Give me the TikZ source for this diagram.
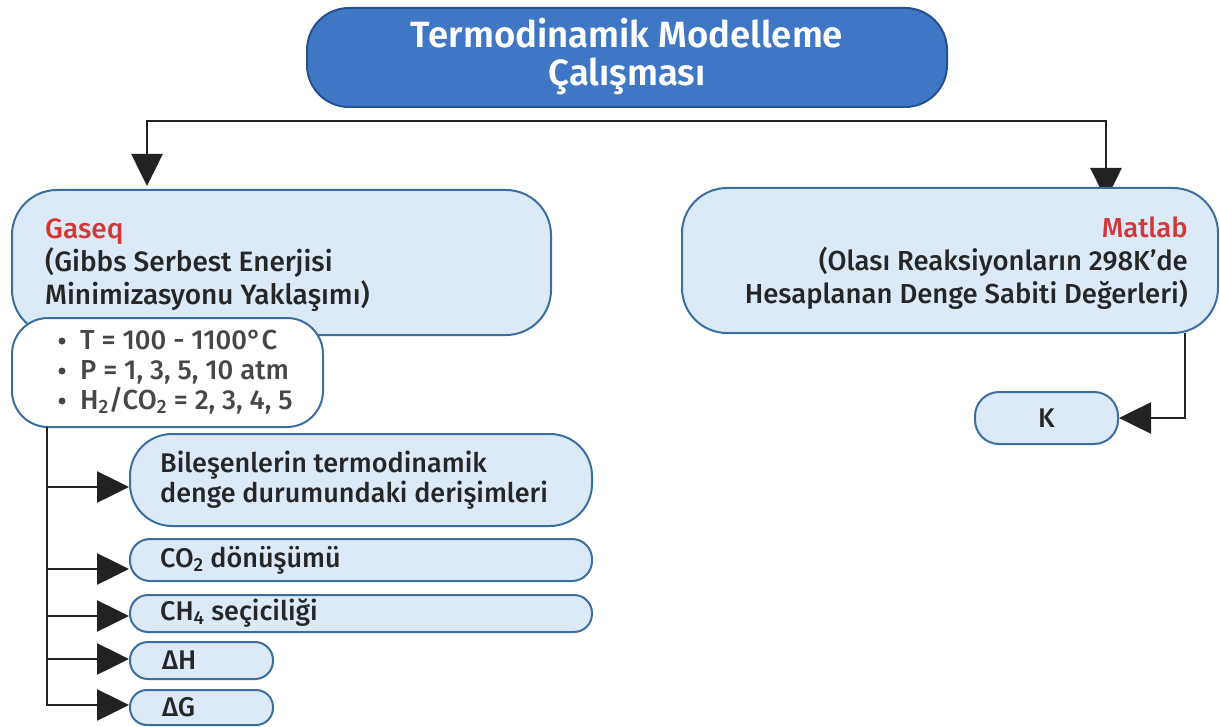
\documentclass[tikz,border=0pt]{standalone}
\usepackage{fontspec}
\setmainfont{Fira Sans}[UprightFont={* Medium},BoldFont={* SemiBold}]
\usetikzlibrary{arrows.meta,calc}
\definecolor{boxfill}{HTML}{DCEAF8}
\definecolor{boxline}{HTML}{3B6E9E}
\definecolor{topfill}{HTML}{3F77C4}
\definecolor{topline}{HTML}{25508F}
\definecolor{txt}{HTML}{262626}
\definecolor{redtxt}{HTML}{D0393A}
\definecolor{conn}{HTML}{222222}
\tikzset{
  rbox/.style={draw=boxline,fill=boxfill,line width=2pt,rectangle,inner sep=0pt},
  wbox/.style={draw=boxline,fill=white,line width=2pt,rectangle,inner sep=0pt},
  tbox/.style={draw=topline,fill=topfill,line width=2pt,rectangle,inner sep=0pt},
  lbl/.style={inner sep=0pt,text=txt,font=\fontsize{27}{30}\selectfont},
  dot/.style={circle,fill=txt!85!white,inner sep=0pt,minimum size=7pt},
  conline/.style={draw=conn,line width=2.6pt},
  arr/.style={conline,-{Triangle[length=32pt,width=31pt]}},
}
\begin{document}
\begin{tikzpicture}[x=1pt,y=-1pt]
\useasboundingbox (0,0) rectangle (1220,727);
% connectors (drawn first; boxes cover them)
\coordinate (hl) at (147,121);
\coordinate (hr) at (1106,121);
\coordinate (gtop) at (147,186);
\coordinate (mtop) at (1106,200);
\draw[arr] (hr) -- (hl) -- (gtop);
\draw[arr] (hl) -- (hr) -- (mtop);
% boxes
\node[tbox,minimum width=640pt,minimum height=99pt,rounded corners=42pt] (top) at (627,57.5) {};
\node[rbox,minimum width=539pt,minimum height=145pt,rounded corners=45pt] (gaseq) at (281.5,262.5) {};
\node[wbox,minimum width=311pt,minimum height=109pt,rounded corners=36pt] (bulb) at (167.5,372.5) {};
\node[rbox,minimum width=536pt,minimum height=145pt,rounded corners=45pt] (matlab) at (950,260.5) {};
\node[rbox,minimum width=143pt,minimum height=52pt,rounded corners=24pt] (kbox) at (1046.5,418) {};
\node[rbox,minimum width=462pt,minimum height=92pt,rounded corners=42pt] (b1) at (361,480) {};
\node[rbox,minimum width=462pt,minimum height=42pt,rounded corners=20pt] (b2) at (361,560) {};
\node[rbox,minimum width=462pt,minimum height=37pt,rounded corners=18pt] (b3) at (361,613.5) {};
\node[rbox,minimum width=143pt,minimum height=37pt,rounded corners=18pt] (b4) at (201.5,660.5) {};
\node[rbox,minimum width=143pt,minimum height=35pt,rounded corners=17pt] (b5) at (201.5,707.5) {};
% lower connectors
\coordinate (trunk) at (47,427);
\coordinate (mk) at (1185,333);
\draw[arr] (mk) |- (kbox.east);
\draw[conline] (trunk) -- (47,705);
\draw[arr] (47,487) -- (b1.west |- 0,487);
\draw[arr] (47,569) -- (b2.west |- 0,569);
\draw[arr] (47,616) -- (b3.west |- 0,616);
\draw[arr] (47,659) -- (b4.west |- 0,659);
\draw[arr] (45.7,705) -- (b5.west |- 0,705);
% texts
\node[inner sep=0pt,text=white,align=center,font=\bfseries\fontsize{36.5}{38}\selectfont] (toptxt) at (627,57) {Termodinamik Modelleme\\Çalışması};
\node[lbl,anchor=west,align=left,font=\fontsize{28}{33}\selectfont] (gtxt) at (45,265) {\textcolor{redtxt}{Gaseq}\\(Gibbs Serbest Enerjisi\\Minimizasyonu Yaklaşımı)};
\node[lbl,anchor=east,align=right,font=\fontsize{27.5}{33}\selectfont] (mtxt) at (1188,263) {\textcolor{redtxt}{Matlab}\\(Olası Reaksiyonların 298K'de\\Hesaplanan Denge Sabiti Değerleri)};
\node[dot] (d1) at (62,341) {};
\node[dot] (d2) at (62,371) {};
\node[dot] (d3) at (62,401) {};
\node[lbl,anchor=west,align=left,text=txt!85!white,font=\fontsize{27.5}{30}\selectfont] (btxt) at (80,372) {T = 100 - 1100°C\\P = 1, 3, 5, 10 atm\\H\textsubscript{2}/CO\textsubscript{2} = 2, 3, 4, 5};
\node[lbl,anchor=west,align=left] (t1) at (160,480) {Bileşenlerin termodinamik\\denge durumundaki derişimleri};
\node[lbl,anchor=west] (t2) at (160,560) {CO\textsubscript{2} dönüşümü};
\node[lbl,anchor=west] (t3) at (160,613) {CH\textsubscript{4} seçiciliği};
\node[lbl,anchor=west] (t4) at (162,660) {ΔH};
\node[lbl,anchor=west] (t5) at (162,707) {ΔG};
\node[lbl] (ktxt) at (1046.5,418) {K};
\end{tikzpicture}
\end{document}
